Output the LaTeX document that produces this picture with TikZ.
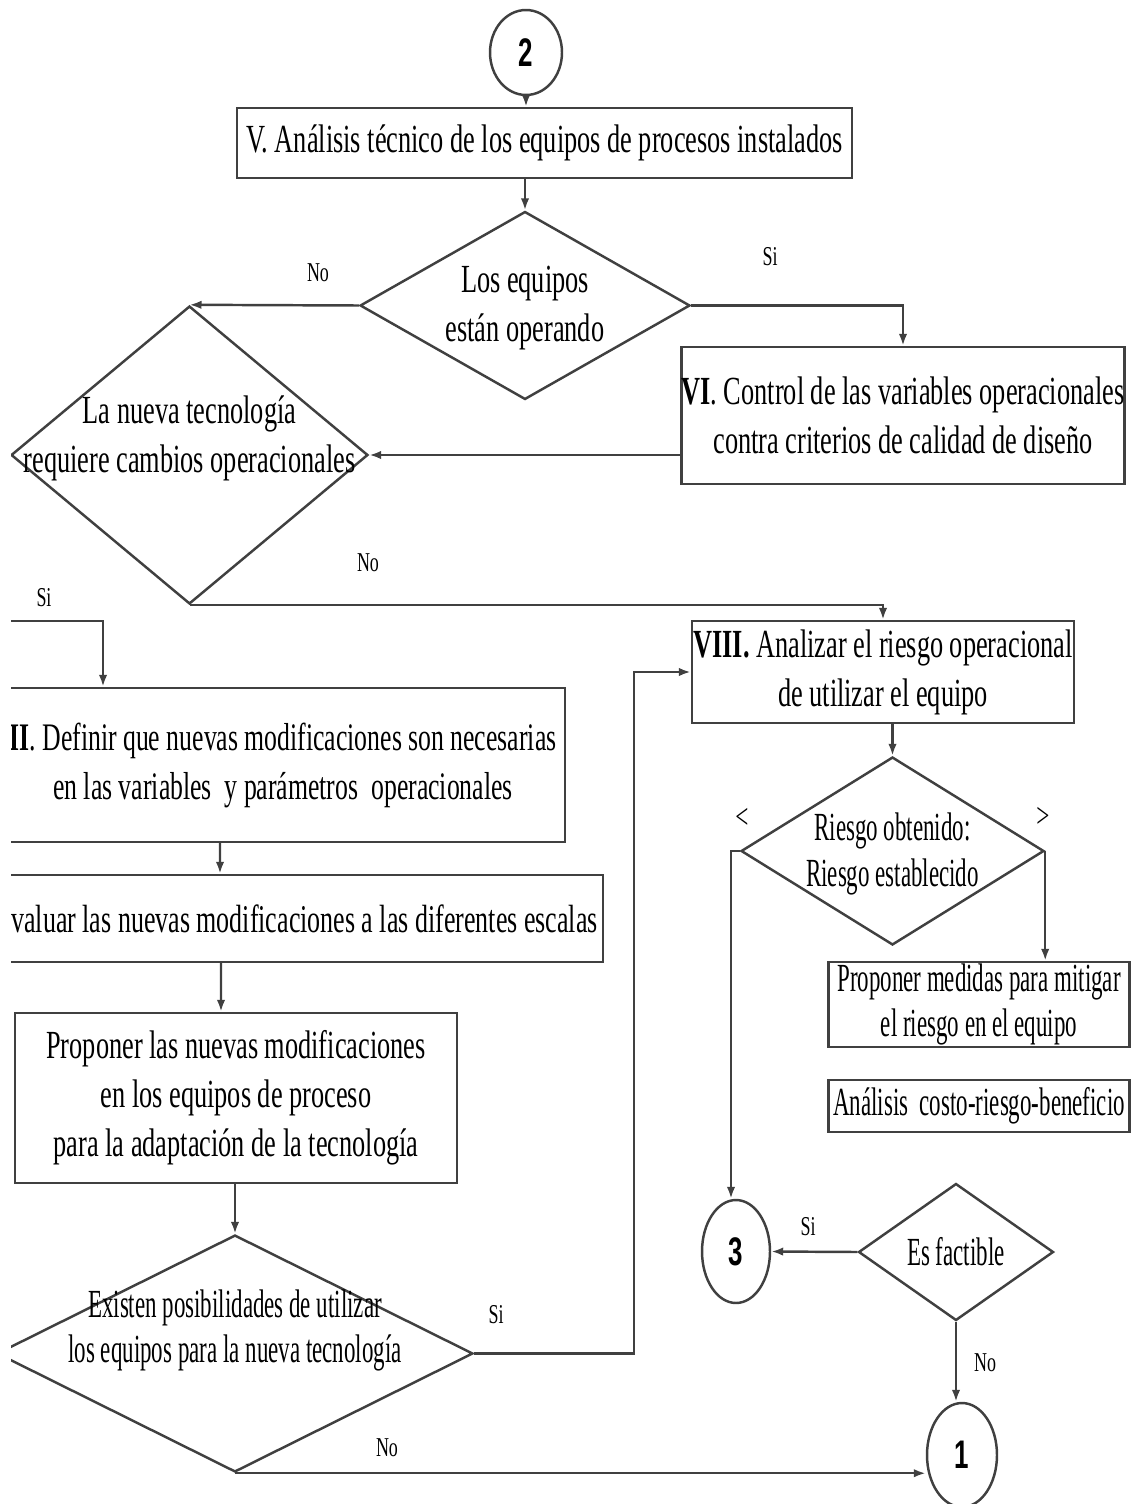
\documentclass[tikz,border=0pt]{standalone}
\usepackage{fontspec}
\setmainfont{Liberation Serif}[FakeStretch=0.66]
\newfontfamily\narrowfont{Liberation Serif}[FakeStretch=0.575]
\newfontfamily\numfont{Liberation Sans}[FakeStretch=0.65]
\usetikzlibrary{shapes.geometric, arrows.meta}
\newcommand{\boxfont}{\fontsize{22.7}{27.9}\selectfont}
\newcommand{\slimfont}{\narrowfont\fontsize{22.7}{25.8}\selectfont}
\newcommand{\tagfont}{\fontsize{15.5}{18}\selectfont}

\begin{document}
\begin{tikzpicture}[x=0.02cm, y=-0.02cm, >={Latex[length=0.24cm,width=0.17cm]},
        box/.style={rectangle, draw=black!75, line width=1.4pt, inner sep=0pt, align=center, font=\boxfont},
        dec/.style={diamond, draw=black!75, line width=1.4pt, inner sep=0pt},
        con/.style={ellipse, draw=black!75, line width=1.4pt, inner sep=0pt, font=\numfont\bfseries\boxfont},
        tag/.style={inner sep=0pt, font=\tagfont},
        line/.style={->, draw=black!75, line width=1.4pt}]
        \useasboundingbox (0,0) rectangle (1132,1504);
        \clip (11,0) rectangle (1132,1504);

        \node[con, minimum width=1.44cm, minimum height=1.7cm](q1) at (526,52.5){2};
        \node[box, minimum width=12.3cm, minimum height=1.4cm](q2) at (544.5,143){V. Análisis técnico de los equipos de procesos instalados};
        \node[dec, minimum width=6.6cm, minimum height=3.76cm,
            label={[font=\boxfont, align=center, yshift=-0.06cm]center:{Los equipos\\están operando}}](q3) at (525,305.5){};
        \node[box, minimum width=8.84cm, minimum height=2.74cm](q4) at (903,415.5){\textbf{VI}. Control de las variables operacionales\\contra criterios de calidad de diseño};
        \node[dec, minimum width=7.14cm, minimum height=5.96cm,
            label={[font=\boxfont, align=center, yshift=0.34cm]center:{La nueva tecnología\\requiere cambios operacionales}}](q5) at (189.5,455){};

        \node[box, minimum width=11.28cm, minimum height=3.08cm, font=\fontsize{22.2}{27.9}\selectfont](q6) at (283,765){\textbf{II}. Definir que nuevas modificaciones son necesarias\\en las variables \ y parámetros \ operacionales};
        \node[box, minimum width=11.94cm, minimum height=1.74cm, font=\fontsize{22.4}{27.9}\selectfont](q7) at (304.5,918.5){valuar las nuevas modificaciones a las diferentes escalas};
        \node[box, minimum width=8.84cm, minimum height=3.4cm](q8) at (236,1098){Proponer las nuevas modificaciones\\en los equipos de proceso\\para la adaptación de la tecnología};
        \node[dec, minimum width=9.52cm, minimum height=4.74cm,
            label={[font=\slimfont, align=center, yshift=0.46cm]center:{Existen posibilidades de utilizar\\los equipos para la nueva tecnología}}](q9) at (235,1353.5){};

        \node[box, minimum width=7.64cm, minimum height=2.04cm](q10) at (883,672){\textbf{VIII.} Analizar el riesgo operacional\\de utilizar el equipo};
        \node[dec, minimum width=6.06cm, minimum height=3.76cm,
            label={[font=\slimfont, align=center, yshift=-0.06cm]center:{Riesgo obtenido:\\Riesgo establecido}}](q11) at (892.5,851){};
        \node[box, minimum width=6.02cm, minimum height=1.7cm, font=\slimfont](q12) at (979,1004.5){Proponer medidas para mitigar\\el riesgo en el equipo};
        \node[box, minimum width=6.02cm, minimum height=1.04cm, font=\slimfont](q13) at (979,1106){Análisis \ costo-riesgo-beneficio};
        \node[con, minimum width=1.36cm, minimum height=2.06cm](q14) at (736,1251.5){3};
        \node[dec, minimum width=3.9cm, minimum height=2.74cm,
            label={[font=\slimfont]center:Es factible}](q15) at (956,1252){};
        \node[con, minimum width=1.4cm, minimum height=2.08cm](q16) at (962,1455){1};

        \coordinate (s1) at (11,621);

        \node[tag](t1) at (318,273){No};
        \node[tag](t2) at (770,257){Si};
        \node[tag](t3) at (368,563){No};
        \node[tag](t4) at (44,598){Si};
        \node[tag, font=\fontsize{20}{22}\selectfont](t5) at (742,818){<};
        \node[tag, font=\fontsize{20}{22}\selectfont](t6) at (1043,817){>};
        \node[tag](t7) at (496,1315){Si};
        \node[tag](t8) at (387,1448){No};
        \node[tag](t9) at (808,1227){Si};
        \node[tag](t10) at (985,1363){No};

        \draw[line] (q1) -- (q1.south |- q2.north);
        \draw[line] (q3.north |- q2.south) -- (q3);
        \draw[line] (q3.west) -- (q5.north);
        \draw[line] (q3.east) -| (q4.north);
        \draw[line] (q5.east -| q4.west) -- (q5.east);
        \draw[line] (q5.south) -| (q10.north);
        \draw[line] (s1) -| ([xshift=-3.6cm]q6.north);

        \draw[line] ([xshift=-1.26cm]q6.south) -- ([xshift=-1.69cm]q7.north);
        \draw[line] ([xshift=-1.67cm]q7.south) -- ([xshift=-0.3cm]q8.north);
        \draw[line] (q8.south -| q9.north) -- (q9.north);
        \draw[line] (q9.east) -- ++(160,0) |- (q10.west);
        \draw[line] (q9.south) -- (q9.south -| q16.west);

        \draw[line] (q10.south -| q11.north) -- (q11.north);
        \draw[line] (q11.west) -| ([xshift=-0.1cm]q14.north);
        \draw[line] (q11.east) -- (q11.east |- q12.north);
        \draw[line] (q15.west) -- (q14.east);
        \draw[line] (q15.south) -- (q15.south |- q16.north);
\end{tikzpicture}
\end{document}
